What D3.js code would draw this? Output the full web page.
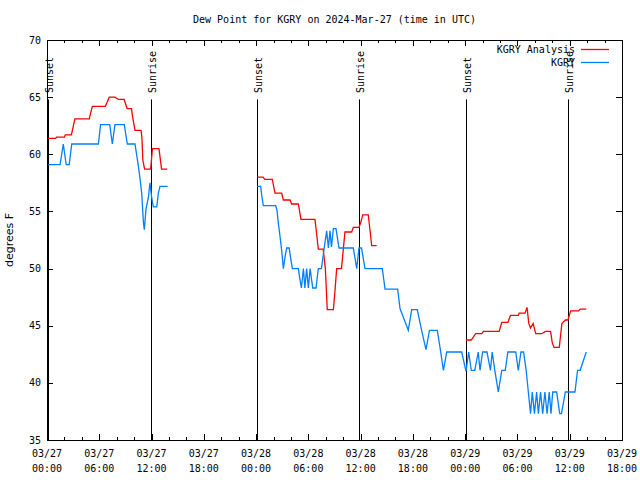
<!DOCTYPE html>
<html>
<head>
<meta charset="utf-8">
<script src="https://cdn.jsdelivr.net/npm/d3@7"></script>
<style>
  html, body { margin: 0; padding: 0; background: #fff; }
  svg { display: block; }
  text { font-family: "DejaVu Sans Mono", monospace; font-size: 10px; fill: #000; }
</style>
</head>
<body>
<svg id="chart" width="640" height="480"></svg>
<script>
// ---- Data (hours after 2024-03-27 00:00 UTC, dew point in °F; null = gap) ----
const titleText = "Dew Point for KGRY on 2024-Mar-27 (time in UTC)";
const yTicks = [35, 40, 45, 50, 55, 60, 65, 70];
const seriesNames = ["KGRY Analysis", "KGRY"];
const seriesColors = ["#ff0000", "#0080ff"];

const analysisHours = [0.15,1.0,1.1,2.0,2.1,2.8,3.2,4.85,5.2,6.7,7.15,7.8,8.2,8.85,9.2,9.7,9.8,10.1,10.8,10.9,11.0,11.2,11.9,12.1,12.85,13.15,13.8,
  null,
  24.14,24.8,25.0,25.86,26.17,26.94,27.13,27.9,28.08,28.85,29.15,30.76,30.95,31.14,31.7,31.95,32.17,32.87,33.05,33.25,33.8,34.2,34.97,35.16,35.81,36.0,36.24,36.88,37.27,37.84,
  null,
  48.1,48.7,49.2,49.9,50.1,51.9,52.2,52.9,53.2,54.1,54.2,54.87,55.1,55.3,55.5,55.8,56.1,56.8,57.2,57.8,58.0,58.2,58.8,59.1,59.5,59.8,60.1,61.0,61.2,61.9];
const analysisDew = [61.4,61.4,61.5,61.5,61.7,61.7,63.1,63.1,64.2,64.2,65.0,65.0,64.8,64.8,64.0,64.0,63.4,62.1,62.1,61.4,59.5,58.7,58.7,60.5,60.5,58.7,58.7,
  null,
  58.0,58.0,57.8,57.8,56.6,56.6,56.0,56.0,55.65,55.65,54.3,54.3,53.0,51.7,51.7,50.0,46.4,46.4,48.0,50.0,50.0,53.2,53.2,53.6,53.6,54.0,54.7,54.7,52.0,52.0,
  null,
  43.75,43.75,44.3,44.3,44.5,44.5,45.3,45.3,45.9,45.9,46.1,46.1,46.6,45.2,44.8,45.2,44.3,44.3,44.5,44.5,43.5,43.1,43.1,45.2,45.5,45.5,46.3,46.3,46.45,46.45];

const obsHours = [0.15,1.5,1.87,2.2,2.55,2.84,5.9,6.15,7.2,7.5,7.8,8.87,9.22,10.1,10.3,10.5,10.67,10.87,11.06,11.17,11.36,11.63,11.82,12.0,12.2,12.6,12.78,12.97,13.85,
  null,
  24.14,24.53,24.65,24.83,26.25,26.4,26.55,26.75,26.95,27.13,27.32,27.51,27.8,27.95,28.16,28.85,29.0,29.2,29.43,29.6,29.8,30.0,30.2,30.5,30.88,31.14,31.5,31.8,32.1,32.3,32.48,32.65,32.87,33.17,33.52,35.16,35.55,35.81,36.1,36.5,38.49,38.8,40.25,40.52,41.47,41.86,42.5,43.0,43.5,43.9,44.8,45.15,45.5,45.88,47.6,47.98,48.1,48.4,48.7,49.1,49.5,49.7,50.0,50.5,50.9,51.1,51.4,51.8,52.2,52.6,52.9,53.8,54.1,54.4,54.7,55.0,55.5,55.7,55.95,56.2,56.4,56.65,56.9,57.15,57.4,57.65,57.85,58.05,58.5,58.85,59.05,59.5,60.6,60.9,61.2,61.9];
const obsDew = [59.1,59.1,60.9,59.1,59.1,60.9,60.9,62.6,62.6,60.9,62.6,62.6,60.9,60.9,59.9,58.9,57.9,56.6,54.1,53.4,55.2,56.2,57.5,56.3,55.4,55.4,56.6,57.2,57.2,
  null,
  57.2,57.2,56.4,55.5,55.5,55.1,54.0,52.8,51.5,50.0,51.0,51.8,51.8,51.0,50.0,50.0,49.2,48.3,50.0,48.3,50.0,48.3,50.0,48.3,48.3,50.0,50.0,51.7,53.3,51.8,53.3,51.9,53.5,53.5,51.8,51.8,50.0,51.8,51.8,50.0,50.0,48.2,48.2,46.5,44.6,46.4,46.4,44.6,42.9,44.6,44.6,42.9,41.1,42.7,42.7,41.4,41.0,42.7,41.1,41.1,42.7,41.1,42.7,42.7,41.1,42.7,41.1,39.2,41.1,41.1,42.7,42.7,41.1,42.7,42.7,41.1,37.3,39.2,37.3,39.2,37.3,39.2,37.3,39.2,37.3,39.2,37.3,39.2,39.2,37.3,37.3,39.2,39.2,41.1,41.1,42.7];

const sunLabels = ["Sunset", "Sunrise", "Sunset", "Sunrise", "Sunset", "Sunrise"];
const sunHours = [0.1, 11.95, 24.12, 35.85, 48.13, 59.85];
const sunLineTop = 64.8;

// ---- Layout ----
const M = { left: 47, right: 622, top: 40, bottom: 440 };
const t0 = Date.UTC(2024, 2, 27, 0, 0);
const toDate = h => new Date(t0 + h * 3600e3);

const svg = d3.select("#chart");
const x = d3.scaleUtc().domain([toDate(0), toDate(66)]).range([M.left, M.right]);
const y = d3.scaleLinear().domain([35, 70]).range([M.bottom, M.top]);

// Title
svg.append("text").attr("x", (M.left + M.right) / 2).attr("y", 23)
  .attr("text-anchor", "middle").text(titleText);

// Y axis label
svg.append("text")
  .attr("transform", `translate(13,${(M.top + M.bottom) / 2}) rotate(-90)`)
  .attr("text-anchor", "middle")
  .style("font-family", "'DejaVu Sans', sans-serif").style("font-size", "11px")
  .text("degrees F");

// Frame
svg.append("rect").attr("x", M.left + 0.5).attr("y", M.top + 0.5)
  .attr("width", M.right - M.left).attr("height", M.bottom - M.top)
  .attr("fill", "none").attr("stroke", "#000").attr("stroke-width", 1);

const g = svg.append("g");

// Y ticks (inward, mirrored)
yTicks.forEach(v => {
  const yy = Math.round(y(v)) + 0.5;
  g.append("line").attr("x1", M.left).attr("x2", M.left + 6).attr("y1", yy).attr("y2", yy).attr("stroke", "#000");
  g.append("line").attr("x1", M.right - 6).attr("x2", M.right).attr("y1", yy).attr("y2", yy).attr("stroke", "#000");
  svg.append("text").attr("x", 41).attr("y", y(v)).attr("dy", "0.35em")
    .attr("text-anchor", "end").text(v);
});

// X ticks: minor every 2h, major every 6h
const minor = x.ticks(d3.utcHour.every(2));
minor.forEach(d => {
  const xx = Math.round(x(d)) + 0.5;
  const major = d.getUTCHours() % 6 === 0;
  const len = major ? 6 : 3;
  g.append("line").attr("x1", xx).attr("x2", xx).attr("y1", M.bottom).attr("y2", M.bottom - len).attr("stroke", "#000");
  g.append("line").attr("x1", xx).attr("x2", xx).attr("y1", M.top).attr("y2", M.top + len).attr("stroke", "#000");
});
const fDay = d3.utcFormat("%m/%d"), fTime = d3.utcFormat("%H:%M");
x.ticks(d3.utcHour.every(6)).forEach(d => {
  const t = svg.append("text").attr("x", x(d)).attr("text-anchor", "middle");
  t.append("tspan").attr("x", x(d)).attr("y", 457).text(fDay(d));
  t.append("tspan").attr("x", x(d)).attr("y", 472).text(fTime(d));
});

// Sunrise / sunset markers
sunHours.forEach((h, i) => {
  const xx = Math.round(x(toDate(h))) + 0.5;
  g.append("line").attr("x1", xx).attr("x2", xx)
    .attr("y1", M.bottom).attr("y2", y(sunLineTop)).attr("stroke", "#000").attr("stroke-width", 1);
  svg.append("text")
    .attr("transform", `translate(${xx + 1},93) rotate(-90)`)
    .attr("dy", "0.35em").attr("text-anchor", "start").text(sunLabels[i]);
});

// Series lines
function drawSeries(hours, vals, color) {
  const pts = hours.map((h, i) => ({ h, v: vals[i] }));
  const line = d3.line()
    .defined(d => d.h !== null && d.v !== null)
    .x(d => x(toDate(d.h)))
    .y(d => y(d.v));
  svg.append("path").datum(pts).attr("d", line)
    .attr("fill", "none").attr("stroke", color).attr("stroke-width", 1.3)
    .attr("stroke-linejoin", "miter");
}
drawSeries(analysisHours, analysisDew, seriesColors[0]);
drawSeries(obsHours, obsDew, seriesColors[1]);

// Legend
seriesNames.forEach((name, i) => {
  const ly = 49 + i * 13;
  svg.append("text").attr("x", 575).attr("y", ly).attr("dy", "0.35em")
    .attr("text-anchor", "end").text(name);
  svg.append("line").attr("x1", 581).attr("x2", 609).attr("y1", ly + 0.5).attr("y2", ly + 0.5)
    .attr("stroke", seriesColors[i]).attr("stroke-width", 1.3);
});
</script>
</body>
</html>
